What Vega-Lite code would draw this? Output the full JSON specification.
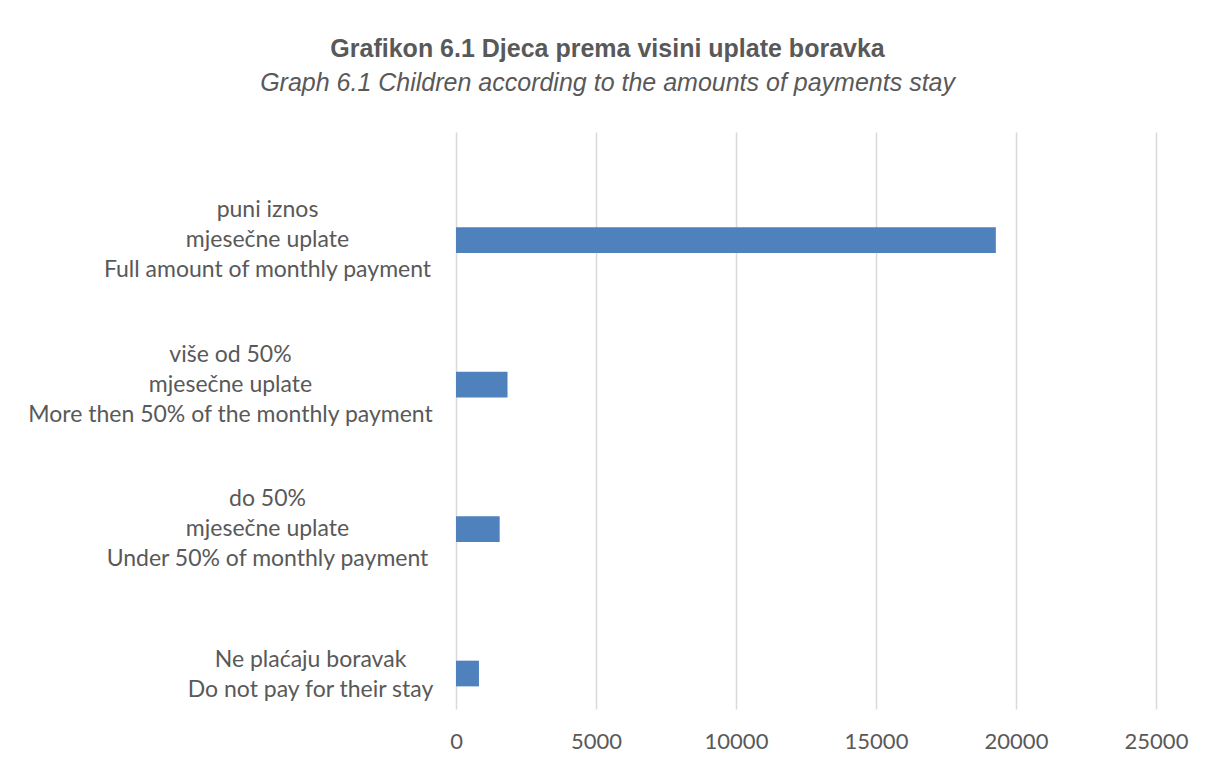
{
  "$schema": "https://vega.github.io/schema/vega-lite/v6.json",
  "autosize": {"type": "none"},
  "padding": {"left": 456, "top": 132, "right": 50, "bottom": 53},
  "width": 700,
  "height": 577,
  "background": "white",
  "title": {
    "text": "Grafikon 6.1 Djeca prema visini uplate boravka",
    "subtitle": "Graph 6.1 Children according to the amounts of payments stay",
    "anchor": "middle",
    "frame": "bounds",
    "font": "Liberation Sans",
    "fontSize": 25,
    "fontWeight": "bold",
    "color": "#595959",
    "subtitleFont": "Liberation Sans",
    "subtitleFontSize": 25,
    "subtitleFontStyle": "italic",
    "subtitleColor": "#595959",
    "subtitlePadding": 9,
    "offset": 36
  },
  "data": {
    "values": [
      {"kategorija": "puni iznos|mjesečne uplate|Full amount of monthly payment", "djeca": 19280},
      {"kategorija": "više od 50%|mjesečne uplate|More then 50% of the monthly payment", "djeca": 1840},
      {"kategorija": "do 50%|mjesečne uplate|Under 50% of monthly payment", "djeca": 1560},
      {"kategorija": "Ne plaćaju boravak|Do not pay for their stay", "djeca": 820}
    ]
  },
  "mark": {"type": "bar", "color": "#4f81bd"},
  "encoding": {
    "y": {
      "field": "kategorija",
      "type": "nominal",
      "sort": null,
      "scale": {"paddingInner": 0.822, "paddingOuter": 0.4076, "align": 0.808},
      "axis": {
        "title": null,
        "domain": false,
        "ticks": false,
        "labelExpr": "split(datum.label, '|')",
        "labelAlign": "center",
        "labelBaseline": "middle",
        "labelLimit": 0,
        "labelLineHeight": 30,
        "labelFont": "Lato",
        "labelFontSize": 23,
        "labelColor": "#595959",
        "labelOffset": {
          "condition": {"test": "indexof(datum.value, 'Ne pla') >= 0", "value": -14},
          "value": -30
        },
        "labelPadding": {
          "condition": [
            {"test": "indexof(datum.value, 'More then') >= 0", "value": 226},
            {"test": "indexof(datum.value, 'Ne pla') >= 0", "value": 146}
          ],
          "value": 189
        }
      }
    },
    "x": {
      "field": "djeca",
      "type": "quantitative",
      "scale": {"domain": [0, 25000], "nice": false},
      "axis": {
        "title": null,
        "values": [0, 5000, 10000, 15000, 20000, 25000],
        "format": "d",
        "domain": false,
        "ticks": false,
        "grid": true,
        "gridColor": "#d9d9d9",
        "gridWidth": 1.5,
        "labelFont": "Lato",
        "labelFontSize": 22,
        "labelColor": "#595959",
        "labelPadding": 22,
        "labelFlush": false
      }
    }
  },
  "config": {"view": {"stroke": null}}
}
